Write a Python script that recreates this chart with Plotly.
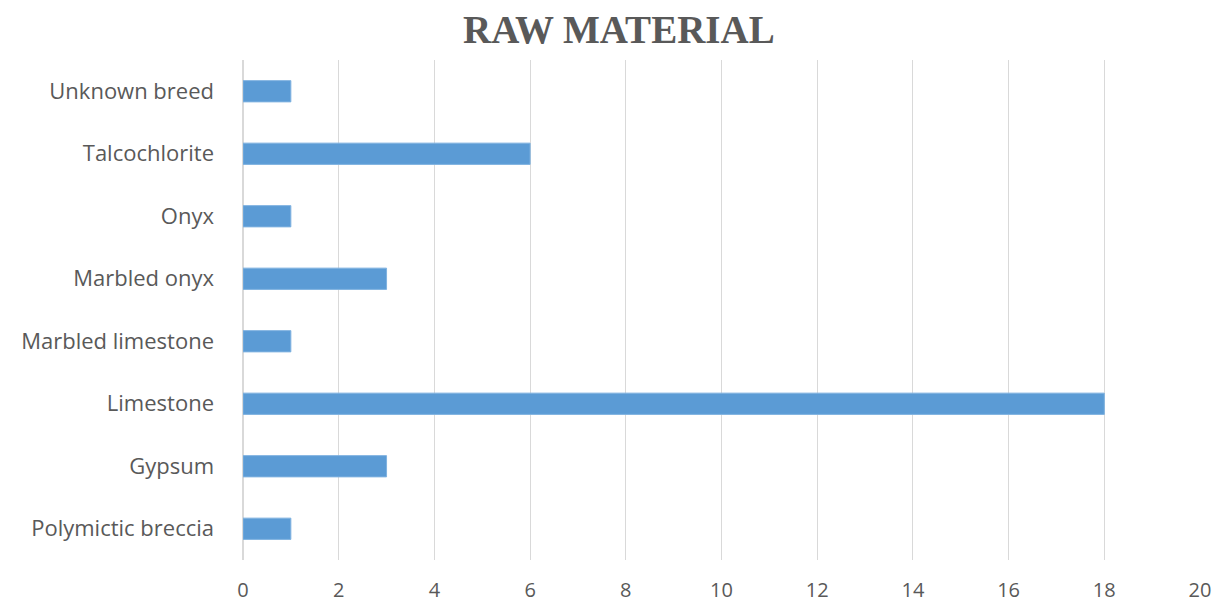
import plotly.graph_objects as go

categories = ["Polymictic breccia", "Gypsum", "Limestone", "Marbled limestone",
              "Marbled onyx", "Onyx", "Talcochlorite", "Unknown breed"]
values = [1, 3, 18, 1, 3, 1, 6, 1]
tick_vals = list(range(0, 21, 2))

fig = go.Figure(go.Bar(
    y=categories, x=values, orientation="h",
    marker=dict(color="#5b9bd5", line=dict(color="#7fb2e0", width=1)),
))

fig.update_layout(
    width=1223, height=603,
    margin=dict(l=243, r=23, t=60, b=43, autoexpand=False),
    paper_bgcolor="white", plot_bgcolor="white",
    bargap=0.66,
    showlegend=False,
    title=dict(text="<b>RAW MATERIAL</b>", x=0.506, xanchor="center", y=0.952, yanchor="middle",
               font=dict(family="Liberation Serif", size=39, color="#595959")),
    xaxis=dict(range=[0, 20], tickvals=tick_vals, showgrid=True, gridcolor="#d9d9d9",
               gridwidth=1, zeroline=True, zerolinecolor="#d9d9d9", showline=False,
               ticks="", ticklabelstandoff=16, automargin=False,
               tickfont=dict(family="Open Sans", size=20, color="#595959")),
    yaxis=dict(categoryorder="array", categoryarray=categories, showgrid=False,
               showline=False, ticks="", ticklabelstandoff=28, automargin=False,
               tickfont=dict(family="Open Sans", size=22, color="#595959")),
)

fig.write_html("out.html")
